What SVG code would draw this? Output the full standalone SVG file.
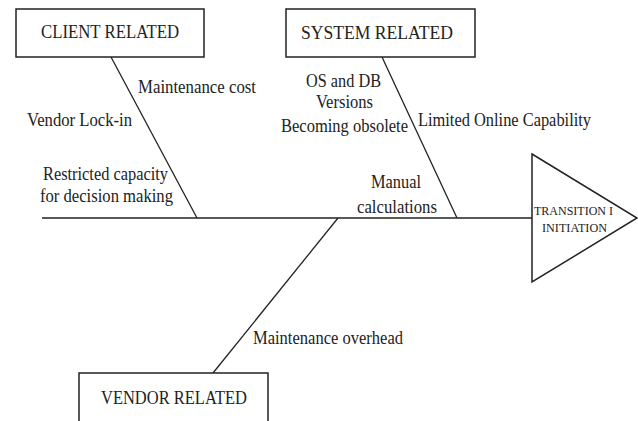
<svg xmlns="http://www.w3.org/2000/svg" width="638" height="421" viewBox="0 0 638 421">
<style>
.box{fill:#fff;stroke:#222;stroke-width:1.5}
.ln{stroke:#222;stroke-width:1.3;fill:none}
text{font-family:"Liberation Serif","Times New Roman",serif;fill:#222;font-size:18px}
.t{font-size:13px}
</style>
<rect width="638" height="421" fill="#fff"/>
<g id="connectors">
<line class="ln" x1="42" y1="218" x2="532" y2="218"/>
<line class="ln" x1="111" y1="57" x2="197" y2="218"/>
<line class="ln" x1="382" y1="57" x2="457" y2="218"/>
<line class="ln" x1="338" y1="218" x2="213" y2="373"/>
</g>
<g id="client">
<rect class="box" x="16" y="9" width="188" height="48"/>
<text x="41" y="38" textLength="138" lengthAdjust="spacingAndGlyphs">CLIENT RELATED</text>
</g>
<g id="system">
<rect class="box" x="286" y="9" width="189" height="48"/>
<text x="301" y="39" textLength="152" lengthAdjust="spacingAndGlyphs">SYSTEM RELATED</text>
</g>
<g id="vendor">
<rect class="box" x="79" y="373" width="189" height="60"/>
<text x="101" y="404" textLength="146" lengthAdjust="spacingAndGlyphs">VENDOR RELATED</text>
</g>
<g id="effect">
<polygon class="box" points="532,154 637,218 532,282"/>
<text class="t" x="534" y="215" textLength="79" lengthAdjust="spacingAndGlyphs">TRANSITION I</text>
<text class="t" x="542" y="232" textLength="65" lengthAdjust="spacingAndGlyphs">INITIATION</text>
</g>
<g id="causes">
<text x="138" y="93" textLength="118" lengthAdjust="spacingAndGlyphs">Maintenance cost</text>
<text x="27" y="126" textLength="105" lengthAdjust="spacingAndGlyphs">Vendor Lock-in</text>
<text x="43" y="180" textLength="125" lengthAdjust="spacingAndGlyphs">Restricted capacity</text>
<text x="40" y="202" textLength="133" lengthAdjust="spacingAndGlyphs">for decision making</text>
<text x="306" y="87" textLength="75" lengthAdjust="spacingAndGlyphs">OS and DB</text>
<text x="316" y="108" textLength="57" lengthAdjust="spacingAndGlyphs">Versions</text>
<text x="281" y="132" textLength="127" lengthAdjust="spacingAndGlyphs">Becoming obsolete</text>
<text x="418" y="126" textLength="173" lengthAdjust="spacingAndGlyphs">Limited Online Capability</text>
<text x="371" y="188" textLength="50" lengthAdjust="spacingAndGlyphs">Manual</text>
<text x="357" y="213" textLength="80" lengthAdjust="spacingAndGlyphs">calculations</text>
<text x="253" y="344" textLength="150" lengthAdjust="spacingAndGlyphs">Maintenance overhead</text>
</g>
</svg>
